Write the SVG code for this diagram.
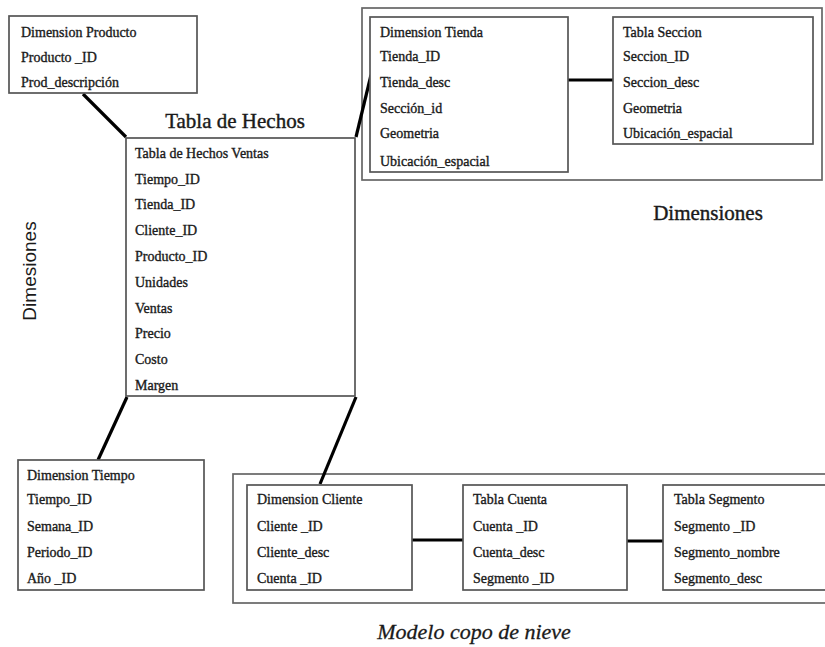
<svg xmlns="http://www.w3.org/2000/svg" width="825" height="647" viewBox="0 0 825 647">
  <style>
    .box { fill: #ffffff; stroke: #555555; stroke-width: 1.7; }
    .frame { fill: none; stroke: #666666; stroke-width: 1.7; }
    .link { stroke: #000000; stroke-width: 3.2; fill: none; stroke-linecap: butt; }
    .t { font-family: "Liberation Serif", "Times New Roman", serif; font-size: 14px; fill: #1a1a1a; stroke: #1a1a1a; stroke-width: 0.35; }
    .title { font-family: "Liberation Serif", "Times New Roman", serif; font-size: 21px; fill: #1a1a1a; stroke: #1a1a1a; stroke-width: 0.4; }
    .side { font-family: "Liberation Sans", Arial, sans-serif; font-size: 19px; fill: #1a1a1a; }
    .caption { font-family: "Liberation Serif", "Times New Roman", serif; font-size: 22px; font-style: italic; fill: #1a1a1a; stroke: #1a1a1a; stroke-width: 0.3; }
  </style>
  <rect width="825" height="647" fill="#ffffff"/>

  <!-- grouping frames -->
  <rect class="frame" x="362" y="8" width="460" height="172"/>
  <rect class="frame" x="233" y="474" width="600" height="129"/>

  <!-- connectors -->
  <g id="connectors">
    <line class="link" x1="83" y1="94" x2="126" y2="137"/>
    <line class="link" x1="356" y1="137" x2="371" y2="75"/>
    <line class="link" x1="568" y1="80" x2="613" y2="80"/>
    <line class="link" x1="127" y1="397" x2="98" y2="460"/>
    <line class="link" x1="356" y1="397" x2="320" y2="484"/>
    <line class="link" x1="412" y1="540" x2="463" y2="540"/>
    <line class="link" x1="627" y1="541" x2="663" y2="541"/>
  </g>

  <g id="dim-producto">
    <rect class="box" x="9" y="16" width="188" height="77"/>
    <text class="t" x="21" y="37">Dimension Producto</text>
    <text class="t" x="21" y="62">Producto _ID</text>
    <text class="t" x="21" y="87">Prod_descripción</text>
  </g>

  <g id="hechos">
    <text class="title" x="235" y="128" text-anchor="middle">Tabla de Hechos</text>
    <rect class="box" x="126" y="138" width="229" height="258"/>
    <text class="t" x="135" y="158">Tabla de Hechos Ventas</text>
    <text class="t" x="135" y="184">Tiempo_ID</text>
    <text class="t" x="135" y="209">Tienda_ID</text>
    <text class="t" x="135" y="235">Cliente_ID</text>
    <text class="t" x="135" y="261">Producto_ID</text>
    <text class="t" x="135" y="287">Unidades</text>
    <text class="t" x="135" y="313">Ventas</text>
    <text class="t" x="135" y="338">Precio</text>
    <text class="t" x="135" y="364">Costo</text>
    <text class="t" x="135" y="390">Margen</text>
  </g>

  <g id="dim-tienda">
    <rect class="box" x="370" y="17" width="198" height="155"/>
    <text class="t" x="380" y="37">Dimension Tienda</text>
    <text class="t" x="380" y="61">Tienda_ID</text>
    <text class="t" x="380" y="87">Tienda_desc</text>
    <text class="t" x="380" y="113">Sección_id</text>
    <text class="t" x="380" y="138">Geometria</text>
    <text class="t" x="380" y="166">Ubicación_espacial</text>
  </g>

  <g id="tabla-seccion">
    <rect class="box" x="613" y="17" width="200" height="127"/>
    <text class="t" x="623" y="37">Tabla Seccion</text>
    <text class="t" x="623" y="61">Seccion_ID</text>
    <text class="t" x="623" y="87">Seccion_desc</text>
    <text class="t" x="623" y="113">Geometria</text>
    <text class="t" x="623" y="138">Ubicación_espacial</text>
  </g>

  <g id="dim-tiempo">
    <rect class="box" x="18" y="460" width="186" height="130"/>
    <text class="t" x="27" y="480">Dimension Tiempo</text>
    <text class="t" x="27" y="504">Tiempo_ID</text>
    <text class="t" x="27" y="531">Semana_ID</text>
    <text class="t" x="27" y="557">Periodo_ID</text>
    <text class="t" x="27" y="583">Año _ID</text>
  </g>

  <g id="dim-cliente">
    <rect class="box" x="247" y="485" width="165" height="105"/>
    <text class="t" x="257" y="504">Dimension Cliente</text>
    <text class="t" x="257" y="531">Cliente _ID</text>
    <text class="t" x="257" y="557">Cliente_desc</text>
    <text class="t" x="257" y="583">Cuenta _ID</text>
  </g>

  <g id="tabla-cuenta">
    <rect class="box" x="463" y="485" width="164" height="105"/>
    <text class="t" x="473" y="504">Tabla Cuenta</text>
    <text class="t" x="473" y="531">Cuenta _ID</text>
    <text class="t" x="473" y="557">Cuenta_desc</text>
    <text class="t" x="473" y="583">Segmento _ID</text>
  </g>

  <g id="tabla-segmento">
    <rect class="box" x="663" y="485" width="170" height="105"/>
    <text class="t" x="674" y="504">Tabla Segmento</text>
    <text class="t" x="674" y="531">Segmento _ID</text>
    <text class="t" x="674" y="557">Segmento_nombre</text>
    <text class="t" x="674" y="583">Segmento_desc</text>
  </g>

  <!-- free labels -->
  <text class="title" x="708" y="220" text-anchor="middle">Dimensiones</text>
  <text class="side" x="36" y="271" text-anchor="middle" transform="rotate(-90 36 271)">Dimesiones</text>
  <text class="caption" x="474" y="639" text-anchor="middle">Modelo copo de nieve</text>
</svg>
